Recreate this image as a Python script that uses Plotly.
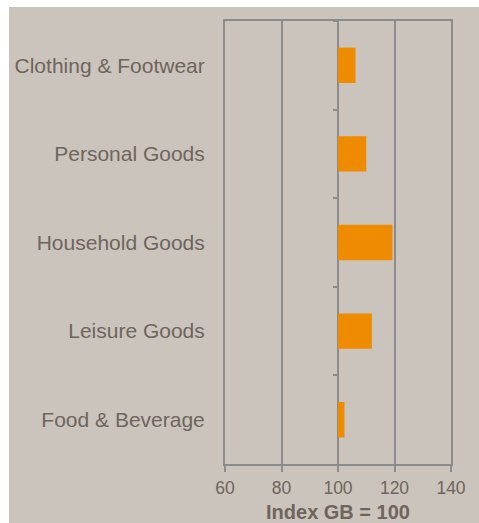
import plotly.graph_objects as go

# Retail category spending index (GB = 100)
categories = ["Clothing & Footwear", "Personal Goods", "Household Goods",
              "Leisure Goods", "Food & Beverage"]
index_values = [106.2, 110.0, 119.3, 112.0, 102.3]
baseline = 100
x_ticks = [60, 80, 100, 120, 140]

W, H = 479, 523
ML, MR, MT, MB = 225, 28, 21, 59
plot_w = W - ML - MR
plot_h = H - MT - MB

bg = "#cbc4bc"
grid = "#8c8c8c"
text_col = "#6f655d"
bar_col = "#ee8b00"

n = len(categories)
cat_range = [n - 0.5, -0.5]  # first category on top

fig = go.Figure()

fig.add_trace(go.Bar(
    y=categories,
    x=[v - baseline for v in index_values],
    base=baseline,
    orientation="h",
    marker=dict(color=bar_col, line=dict(width=0)),
    width=0.4,
    hoverinfo="skip",
    showlegend=False,
))

# helper trace so the axis through the baseline carries category boundary ticks
fig.add_trace(go.Scatter(
    y=categories,
    x=[baseline] * n,
    yaxis="y2",
    mode="markers",
    marker=dict(opacity=0, size=1),
    hoverinfo="skip",
    showlegend=False,
))

# beige panel behind the whole chart, leaving a thin white edge top and left
fig.add_shape(
    type="rect", xref="paper", yref="paper", layer="below",
    x0=(9 - ML) / plot_w, x1=(W + 5 - ML) / plot_w,
    y0=-(MB + 5) / plot_h, y1=(plot_h + MT - 7) / plot_h,
    fillcolor=bg, line=dict(width=0),
)

fig.update_layout(
    width=W, height=H,
    margin=dict(l=ML, r=MR, t=MT, b=MB, autoexpand=False),
    paper_bgcolor="white",
    plot_bgcolor="rgba(0,0,0,0)",
    font=dict(family="Liberation Sans", color=text_col),
    bargap=0.6,
    xaxis=dict(
        range=[x_ticks[0], x_ticks[-1]],
        tickvals=x_ticks,
        automargin=False,
        showgrid=True, gridcolor=grid, gridwidth=2,
        zeroline=False,
        showline=True, linecolor=grid, linewidth=2, mirror=True,
        ticks="outside", ticklen=6, tickwidth=2, tickcolor=grid,
        ticklabelstandoff=1,
        tickfont=dict(size=17.5, color=text_col),
        title=dict(text="<b>Index GB = 100</b>", font=dict(size=20, color=text_col),
                   standoff=8),
    ),
    yaxis=dict(
        type="category",
        range=cat_range,
        automargin=False,
        showgrid=False, zeroline=False,
        showline=True, linecolor=grid, linewidth=2, mirror=True,
        ticks="",
        ticklabelstandoff=14,
        tickfont=dict(size=21, color=text_col),
    ),
    yaxis2=dict(
        type="category",
        overlaying="y",
        anchor="free",
        position=(baseline - x_ticks[0]) / (x_ticks[-1] - x_ticks[0]),
        range=cat_range,
        automargin=False,
        showgrid=False, zeroline=False, showline=False,
        tickson="boundaries",
        ticks="outside", ticklen=5, tickwidth=2, tickcolor=grid,
        showticklabels=False,
    ),
)

fig.write_html("out.html")
